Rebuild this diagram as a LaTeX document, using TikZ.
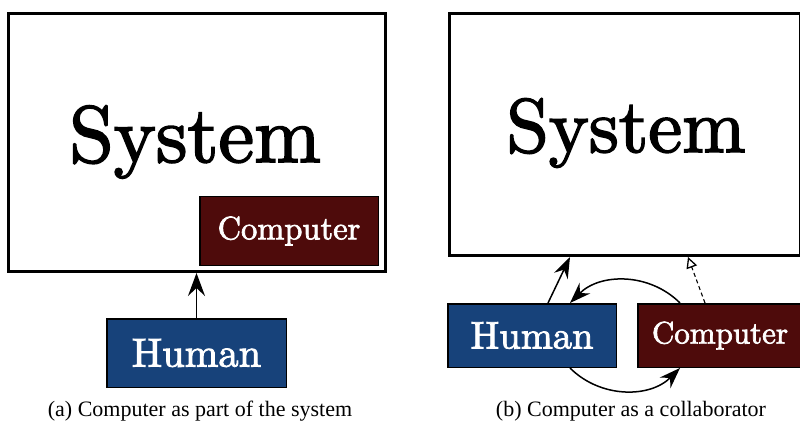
\documentclass[tikz,border=0pt]{standalone}
\usepackage{fontspec}
\newfontfamily\capfont{Liberation Serif}
\newfontfamily\lmheavy{lmroman10-regular.otf}[FakeBold=2.2]
\usetikzlibrary{arrows.meta}
\newcommand\sysfontA{\lmheavy\fontsize{80pt}{88pt}\selectfont}
\newcommand\sysfontB{\lmheavy\fontsize{76pt}{84pt}\selectfont}
\newcommand\humfontA{\lmheavy\fontsize{40.5pt}{45pt}\selectfont}
\newcommand\humfontB{\lmheavy\fontsize{38.5pt}{43pt}\selectfont}
\newcommand\compfontA{\lmheavy\fontsize{32.5pt}{36pt}\selectfont}
\newcommand\compfontB{\lmheavy\fontsize{31pt}{35pt}\selectfont}
\definecolor{humblue}{HTML}{17427A}
\definecolor{compred}{HTML}{4E0B0B}
\tikzset{
  sysbox/.style={draw=black, line width=3pt, inner sep=0pt, fill=white},
  agentbox/.style={draw=black, line width=1.5pt, inner sep=0pt, text=white},
  humanbox/.style={agentbox, fill=humblue},
  computerbox/.style={agentbox, fill=compred},
  flow/.style={line width=1.7pt, -{Stealth[length=23pt,width=17pt,inset=8pt]}},
  flowsmall/.style={line width=1.5pt, -{Stealth[length=21pt,width=15pt,inset=7pt]}},
  advice/.style={line width=1.1pt, dashed, dash pattern=on 4pt off 3pt, -{Triangle[open,length=11pt,width=11pt,line width=1.3pt]}},
  caption/.style={font=\capfont\fontsize{22pt}{24pt}\selectfont, anchor=base}
}
\begin{document}
\begin{tikzpicture}[x=1pt,y=-1pt]
\useasboundingbox (0,0) rectangle (800,422);

% (a) computer embedded in the system
\node[sysbox, minimum width=377pt, minimum height=258pt] (sysA) at (197,142.5) {};
\node[anchor=base, inner sep=0pt] (sysAtxt) at (195,162) {\sysfontA System};
\node[computerbox, minimum width=178.5pt, minimum height=68.5pt] (compA) at (289,231) {\compfontA Computer};
\node[humanbox, minimum width=179.5pt, minimum height=68.5pt] (humA) at (196.5,353) {\humfontA Human};
\draw[flow] (humA.north) -- (humA.north |- sysA.south);
\node[caption] (capA) at (200,416) {(a) Computer as part of the system};

% (b) computer working alongside the human
\node[sysbox, minimum width=351pt, minimum height=242pt] (sysB) at (625,134.5) {};
\node[anchor=base, inner sep=0pt] (sysBtxt) at (626,152) {\sysfontB System};
\node[humanbox, minimum width=168.5pt, minimum height=63.5pt] (humB) at (532,335.5) {\humfontB Human};
\node[computerbox, minimum width=164.5pt, minimum height=63.5pt] (compB) at (720,335.5) {\compfontB Computer};
\draw[flowsmall] ([xshift=16pt]humB.north) -- ([xshift=122pt]sysB.south west);
\draw[advice] ([xshift=-15pt]compB.north) -- ([xshift=240pt]sysB.south west);
\draw[flowsmall] ([xshift=-40pt]compB.north) to[bend right=45] ([xshift=38pt]humB.north);
\draw[flowsmall] ([xshift=38pt]humB.south) to[bend right=45] ([xshift=-40pt]compB.south);
\node[caption] (capB) at (631,416) {(b) Computer as a collaborator};
\end{tikzpicture}
\end{document}
